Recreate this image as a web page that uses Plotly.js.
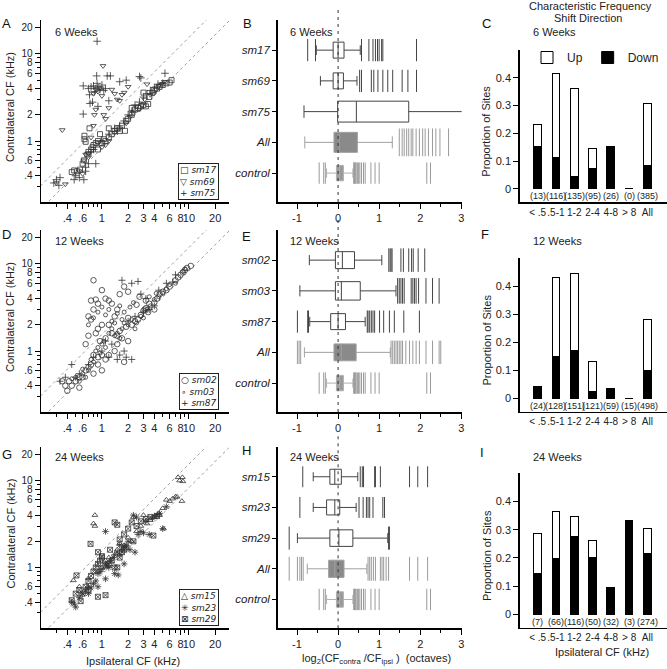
<!DOCTYPE html>
<html><head><meta charset="utf-8">
<script src="https://cdn.plot.ly/plotly-3.0.1.min.js"></script>
<style>html,body{margin:0;padding:0;background:#fff}#chart{width:667px;height:669px}</style>
</head><body><div id="chart"></div>
<script>
// ================= DATA =================
// Scatter panels: [ipsilateral CF, contralateral CF] in kHz
const A_sm17 = [[0.45,0.44],[0.48,0.46],[0.52,0.45],[0.56,0.47],[0.6,0.55],[0.62,0.6],[0.63,1.05],[0.63,1.15],[0.65,0.98],[0.68,0.7],[0.7,0.75],[0.72,1.4],[0.75,0.8],[0.78,0.85],[0.8,0.9],[0.85,0.95],[0.9,1.0],[0.95,1.2],[1.0,0.95],[1.05,1.05],[1.1,1.0],[1.2,1.1],[1.3,1.2],[1.4,1.3],[1.5,1.4],[1.6,1.3],[1.7,1.5],[1.84,1.31],[1.9,1.7],[2.0,1.8],[2.2,2.0],[2.4,2.3],[2.6,2.4],[2.8,2.5],[3.0,2.6],[3.2,2.5],[3.4,2.66],[3.5,3.2],[3.8,3.6],[4.0,3.9],[4.3,4.0],[4.6,4.2],[5.0,4.4],[5.5,4.6],[6.3,5.0],[6.0,4.7],[2.2,2.4],[1.2,1.4],[0.9,0.8],[3.0,3.6]];
const A_sm69 = [[0.35,1.34],[0.3,0.33],[0.38,0.32],[0.55,0.45],[0.6,0.42],[0.62,0.6],[0.65,0.7],[0.7,0.65],[0.75,1.1],[0.8,1.5],[0.82,2.0],[0.85,2.3],[0.8,3.5],[0.9,3.7],[0.95,4.1],[1.0,3.3],[1.05,2.0],[1.1,1.8],[1.0,0.85],[1.1,0.9],[1.2,1.0],[1.3,3.9],[1.4,3.5],[1.5,3.0],[1.6,2.9],[1.7,3.4],[1.8,3.6],[2.0,4.2],[1.4,1.25],[1.6,1.4],[1.9,1.6],[2.1,1.9],[2.3,2.1],[2.5,2.5],[2.7,2.3],[2.9,2.6],[3.1,3.0],[3.3,4.5],[3.6,3.4],[3.9,3.5],[4.2,3.9],[4.5,4.3],[4.8,4.5],[5.2,4.8],[0.9,0.95],[0.7,0.72],[1.2,2.4],[1.03,7.3]];
const A_sm75 = [[0.28,0.33],[0.3,0.36],[0.32,0.31],[0.33,0.38],[0.48,0.36],[0.5,0.4],[0.55,0.38],[0.62,0.36],[0.65,0.5],[0.7,0.55],[0.61,4.3],[0.7,4.0],[0.75,4.2],[0.8,4.3],[0.85,4.0],[0.88,4.6],[0.9,4.1],[0.95,3.9],[1.0,4.4],[1.05,3.8],[1.1,4.0],[1.15,5.6],[0.82,3.7],[0.72,3.4],[0.73,2.7],[0.78,2.8],[0.61,2.04],[0.9,2.5],[1.2,2.9],[1.25,5.6],[1.6,4.8],[1.9,5.0],[2.7,5.5],[2.8,5.3],[0.88,14],[0.87,5.6],[1.4,1.4],[1.5,1.3],[1.6,1.5],[1.8,1.7],[2.0,2.0],[2.2,2.2],[2.4,2.6],[2.7,2.8],[3.0,3.2],[3.3,3.5],[3.6,3.8],[4.0,4.1],[4.4,4.5],[5.0,4.6],[5.3,6.0],[0.85,0.55],[0.65,0.45],[0.75,0.75],[0.8,0.8],[1.0,1.0],[1.2,1.2]];

const D_sm02 = [[0.8,6.5],[1.0,5.0],[1.1,4.0],[0.75,3.8],[0.85,3.9],[0.9,3.5],[0.7,2.5],[0.75,2.3],[0.8,3.0],[1.2,3.8],[1.3,3.5],[1.5,3.0],[1.6,4.5],[1.8,5.5],[2.0,4.8],[1.4,2.5],[1.2,2.0],[1.0,2.0],[0.9,1.8],[0.85,1.6],[0.65,1.2],[0.7,1.5],[0.95,1.3],[1.1,1.4],[1.3,1.6],[1.5,1.5],[1.6,1.7],[1.7,1.4],[1.5,1.2],[1.4,1.0],[1.2,0.9],[1.0,0.9],[0.9,0.85],[0.8,0.9],[0.75,0.7],[0.7,0.65],[0.65,0.6],[0.6,0.5],[0.55,0.5],[0.5,0.45],[0.45,0.4],[0.42,0.45],[0.38,0.4],[0.35,0.45],[0.4,0.35],[0.55,0.38],[0.8,0.55],[1.0,0.6],[0.9,0.7],[1.1,0.8],[1.8,0.75],[2.0,1.3],[2.2,2.0],[2.4,2.2],[2.6,2.3],[2.8,2.6],[3.0,2.9],[3.2,3.1],[3.5,3.5],[3.2,3.8],[4.0,3.6],[4.3,4.0],[4.6,4.5],[5.0,4.8],[5.5,5.0],[6.0,5.5],[7.0,6.5],[7.5,7.0],[8.0,7.5],[8.5,8.0],[9.0,8.5],[9.5,9.0],[10.5,9.5],[3.1,3.0],[2.0,2.4],[1.9,1.9],[2.5,3.4],[2.7,4.2],[3.4,2.8],[4.0,3.0]];
const D_sm03 = [[0.6,0.55],[0.65,0.5],[0.7,0.6],[0.75,0.8],[0.8,0.75],[0.85,1.0],[0.9,1.1],[0.95,0.95],[1.0,1.2],[1.05,1.3],[1.1,1.1],[1.2,1.6],[1.3,1.8],[1.4,1.5],[1.5,1.6],[1.6,1.4],[1.7,1.8],[1.8,2.1],[2.0,2.0],[2.2,2.3],[2.5,2.1],[2.8,2.5],[3.0,2.4],[3.3,3.0],[3.6,3.3],[4.0,3.9],[4.5,4.2],[5.0,4.6],[6.0,5.8],[7.0,6.0],[8.5,8.2],[9.0,8.8],[0.7,2.0],[0.8,2.4],[0.9,2.8],[1.0,3.2],[1.1,2.6],[1.2,3.0],[1.3,2.2],[1.5,2.7],[1.6,3.3],[1.8,2.8],[2.1,3.2],[2.3,3.6],[0.5,0.5],[0.45,0.48],[0.55,0.45],[0.6,0.62],[1.4,2.1],[1.7,2.3],[2.4,1.8],[3.5,4.2],[4.2,4.6],[5.5,5.2]];
const D_sm87 = [[0.33,0.45],[0.38,0.5],[0.45,0.7],[0.5,0.5],[0.55,0.55],[0.7,0.7],[0.8,0.85],[1.0,1.0],[1.2,0.85],[1.5,0.8],[1.6,0.9],[1.8,1.0],[1.9,0.85],[2.2,0.8],[1.7,6.5],[2.2,6.0],[2.6,6.3],[2.8,4.5],[3.0,2.8],[3.5,3.0],[4.0,3.3],[4.5,5.0],[5.5,6.0],[3.2,4.0],[2.4,2.5],[2.0,2.2],[1.3,1.2],[1.1,1.3],[6.5,6.2],[7.0,7.5]];

const G_sm15 = [[0.47,0.71],[0.55,0.6],[0.7,0.75],[0.83,4.0],[0.8,3.2],[0.83,3.0],[1.0,1.0],[1.2,1.3],[1.5,1.6],[1.8,1.8],[2.0,2.2],[2.3,3.8],[2.5,2.6],[2.8,3.0],[3.0,4.0],[3.3,3.2],[3.6,3.5],[4.0,3.8],[4.5,4.2],[5.0,4.8],[5.1,2.8],[5.5,6.0],[6.0,5.8],[6.5,6.2],[7.0,6.5],[7.3,6.5],[7.5,10.9],[7.8,10.0],[8.4,10.9],[8.5,9.8],[8.3,5.8],[1.6,1.9],[2.2,2.0],[1.1,1.2],[0.9,0.9],[4.6,4.0]];
const G_sm23 = [[0.45,0.4],[0.48,0.38],[0.5,0.35],[0.55,0.45],[0.6,0.5],[0.65,0.55],[0.7,0.6],[0.75,0.58],[0.8,0.65],[0.85,0.7],[0.9,0.85],[0.95,0.9],[1.0,0.95],[1.1,0.74],[1.1,1.1],[1.15,1.05],[1.2,1.0],[1.25,1.2],[1.1,2.6],[1.35,1.3],[1.4,1.4],[1.5,1.5],[1.6,1.4],[1.7,1.6],[1.8,1.7],[1.9,1.8],[2.0,2.0],[2.1,1.6],[2.3,4.0],[2.5,3.8],[2.6,2.4],[2.8,2.6],[3.0,2.5],[3.2,3.4],[3.5,2.4],[3.8,3.7],[4.0,3.9],[4.3,4.0],[4.6,4.2],[5.0,2.8],[5.5,5.0],[1.4,0.85],[1.54,0.82],[2.4,1.5],[1.8,1.1],[0.9,0.6],[0.7,0.5],[1.6,1.8]];
const G_sm29 = [[0.45,0.42],[0.5,0.5],[0.55,0.55],[0.6,0.5],[0.57,0.41],[0.65,0.6],[0.7,0.7],[0.75,0.8],[0.8,0.9],[0.85,1.0],[0.9,1.1],[0.95,1.2],[0.9,0.46],[1.1,0.48],[1.0,1.3],[1.1,1.05],[1.2,1.1],[1.3,1.2],[1.4,1.0],[1.5,1.0],[1.6,1.3],[1.7,1.5],[1.8,1.6],[0.74,1.87],[0.9,1.5],[1.0,1.35],[1.24,1.6],[1.4,3.3],[1.5,3.1],[1.6,2.1],[1.8,2.4],[2.0,2.8],[2.2,3.3],[2.5,3.0],[2.8,3.4],[3.2,3.6],[3.6,3.8],[3.9,2.33],[4.3,3.9],[0.51,0.81],[0.7,0.55],[1.9,1.7],[2.3,2.0]];

// Box panels: log2(CFcontra/CFipsi), categories top to bottom
const B_cats = ['sm17','sm69','sm75','All','control'];
const B_lo  = [-0.53,-0.43,-0.83,-0.81,-0.28];
const B_q1  = [-0.12,-0.12,-0.01,-0.10,-0.04];
const B_med = [0.00,0.00,0.445,0.03,0.03];
const B_q3  = [0.145,0.13,1.72,0.47,0.13];
const B_hi  = [0.54,0.46,3.2,1.32,0.36];
const B_out_sm17 = [-0.74,-0.55,0.57,0.75,0.85,0.91,0.96,1.0,1.06,1.09,1.91];
const B_out_sm69 = [0.525,0.57,0.81,0.87,0.97,1.09,1.21,1.33,1.56,1.70,1.91];
const B_out_sm75 = [];
const B_out_All  = [1.49,1.56,1.61,1.67,1.72,1.78,1.82,1.90,1.98,2.06,2.12,2.20,2.30,2.38,2.48,2.69];
const control_out = [-0.46,-0.35,-0.31,0.38,0.40,0.42,0.44,0.47,0.50,0.53,0.57,0.62,0.66,0.80,0.90,1.0,2.16,2.25];

const E_cats = ['sm02','sm03','sm87','All','control'];
const E_lo  = [-0.70,-0.93,-0.69,-0.82,-0.28];
const E_q1  = [-0.065,-0.065,-0.18,-0.10,-0.04];
const E_med = [0.105,0.08,0.0,0.08,0.03];
const E_q3  = [0.40,0.54,0.18,0.44,0.13];
const E_hi  = [1.065,1.41,0.66,1.27,0.36];
const E_out_sm02 = [1.235,1.267,1.29,1.315,1.53,1.59,1.72,1.79,1.83,1.95,2.11];
const E_out_sm03 = [1.45,1.49,1.53,1.57,1.61,1.78,1.82,1.86,1.90,1.96,2.14,2.30,2.46];
const E_out_sm87 = [-0.99,-0.74,-0.72,0.71,0.73,0.77,0.81,0.85,0.89,1.01,1.11,1.25,1.37,1.60,1.98];
const E_out_All  = [-0.99,-0.95,-0.91,1.29,1.33,1.37,1.41,1.45,1.49,1.53,1.57,1.65,1.74,1.82,1.90,1.98,2.14,2.30,2.46,2.50];

const H_cats = ['sm15','sm23','sm29','All','control'];
const H_lo  = [-0.605,-0.605,-0.99,-0.75,-0.28];
const H_q1  = [-0.20,-0.28,-0.20,-0.23,-0.04];
const H_med = [-0.08,-0.08,0.02,-0.08,0.03];
const H_q3  = [0.08,0.04,0.36,0.145,0.13];
const H_hi  = [0.48,0.44,1.21,0.70,0.36];
const H_out_sm15 = [-0.86,0.54,0.59,0.62,0.89,0.91,1.03,1.74,1.94,2.18];
const H_out_sm23 = [-0.93,0.51,0.61,0.69,0.73,0.77,0.85,1.09,1.13];
const H_out_sm29 = [-1.19,1.23,1.25];
const H_out_All  = [-1.19,-0.99,-0.93,-0.89,-0.85,0.73,0.77,0.81,0.86,0.91,1.03,1.07,1.11,1.17,1.23,1.74,1.94,2.18];

// Bar panels: proportion of sites shifted
const bins = ['< .5','.5-1','1-2','2-4','4-8','> 8','All'];
const C_down  = [0.154,0.112,0.044,0.074,0.154,0,0.083];
const C_total = [0.231,0.414,0.363,0.147,0.154,0,0.306];
const C_n     = [13,116,135,95,26,0,385];
const F_down  = [0.042,0.148,0.172,0.025,0.034,0,0.100];
const F_total = [0.042,0.430,0.444,0.132,0.034,0,0.283];
const F_n     = [24,128,151,121,59,15,498];
const I_down  = [0.143,0.197,0.276,0.200,0.094,0.333,0.215];
const I_total = [0.286,0.364,0.345,0.260,0.094,0.333,0.303];
const I_n     = [7,66,116,50,32,3,274];

const weeks = ['6 Weeks','12 Weeks','24 Weeks'];
const refRatios = [1.55, 0.83];
const sc_xticks = [0.4,0.6,1,2,3,4,6,8,10,20];
const sc_xtext  = ['.4','.6','1','2','3','4','6','8','10','20'];
const sc_yticks = [0.4,0.6,1,2,4,6,8,10,20];
const sc_ytext  = ['.4','.6','1','2','4','6','8','10','20'];
const sc_minor  = [0.3,0.5,0.7,0.8,0.9,3,5,7,9];

// ================= STYLE / LAYOUT =================
const W = 667, H = 669;
const fx = p => p / W, fy = p => 1 - p / H;
const id = n => n === 1 ? '' : String(n);
const FONT = 'Liberation Sans, Arial, sans-serif';
const rows = [{top:20,bot:202},{top:230,bot:412},{top:446.7,bot:628.3}];
const barRows = [{top:50,bot:202.3},{top:258.3,bot:411.7},{top:473.3,bot:627.7}];
const common = {showline:true, linecolor:'#000', linewidth:1.5, ticks:'outside', ticklen:5, tickwidth:1,
  tickcolor:'#000', showgrid:false, zeroline:false, tickangle:0, tickfont:{size:11, color:'#222'}, fixedrange:true};

const traces = [];
const layout = {width:W, height:H, margin:{l:0,r:0,t:0,b:0}, paper_bgcolor:'#fff', plot_bgcolor:'rgba(0,0,0,0)',
  font:{family:FONT, size:11, color:'#222'}, showlegend:true, annotations:[], shapes:[],
  legend:{orientation:'h', x:fx(527), y:fy(43), xanchor:'left', yanchor:'top', font:{size:12, color:'#222'},
    bgcolor:'rgba(0,0,0,0)', itemwidth:30, traceorder:'normal'},
  boxmode:'overlay', barmode:'stack'};

function ann(text, x, y, opts) {
  layout.annotations.push(Object.assign({text, x:fx(x), y:fy(y), xref:'paper', yref:'paper', showarrow:false,
    xanchor:'left', yanchor:'middle', font:{size:11, color:'#222'}}, opts || {}));
}

// ---- Scatter panels ----
const scatterPanels = [
  {series:[['sm17',A_sm17,'square-open',5],['sm69',A_sm69,'triangle-down-open',5],['sm75',A_sm75,'cross-thin-open',5.5]],
   legend:'□ <i>sm17</i><br>▽ <i>sm69</i><br>+ <i>sm75</i>'},
  {series:[['sm02',D_sm02,'circle-open',5.5],['sm03',D_sm03,'circle-open',4],['sm87',D_sm87,'cross-thin-open',5]],
   legend:'○ <i>sm02</i><br>∘ <i>sm03</i><br>+ <i>sm87</i>'},
  {series:[['sm15',G_sm15,'triangle-up-open',5],['sm23',G_sm23,'asterisk-open',5.5],['sm29',G_sm29,'square-x-open',5]],
   legend:'△ <i>sm15</i><br>✳ <i>sm23</i><br>⊠ <i>sm29</i>'}
];
const refX = [0.1, 50];
scatterPanels.forEach((p, r) => {
  const n = r * 3 + 1, row = rows[r];
  refRatios.forEach(k => traces.push({type:'scatter', mode:'lines', x:refX, y:refX.map(v => v * k),
    xaxis:'x'+id(n), yaxis:'y'+id(n), line:{color:'#888', width:0.8, dash:'dot'}, showlegend:false, hoverinfo:'skip'}));
  p.series.forEach(([name, pts, sym, sz]) => traces.push({type:'scatter', mode:'markers', name,
    x:pts.map(q => q[0]), y:pts.map(q => q[1]), xaxis:'x'+id(n), yaxis:'y'+id(n), showlegend:false,
    marker:{symbol:sym, size:sz, color:'#333', line:{color:'#333', width:0.8}}}));
  layout['xaxis'+id(n)] = Object.assign({}, common, {domain:[fx(41), fx(229)], anchor:'y'+id(n), type:'log',
    range:[-0.70, 1.46], tickmode:'array', tickvals:sc_xticks, ticktext:sc_xtext,
    minor:{tickmode:'array', tickvals:sc_minor, ticks:'outside', ticklen:3, tickcolor:'#000'}});
  layout['yaxis'+id(n)] = Object.assign({}, common, {domain:[fy(row.bot), fy(row.top)], anchor:'x'+id(n), type:'log',
    range:[-0.70, 1.39], tickmode:'array', tickvals:sc_yticks, ticktext:sc_ytext, tickfont:{size:10, color:'#222'},
    minor:{tickmode:'array', tickvals:sc_minor, ticks:'outside', ticklen:3, tickcolor:'#000'}});
  ann(weeks[r], 53, [32, 240.7, 457][r]);
  ann('Contralateral CF (kHz)', 10, (row.top + row.bot) / 2 - 4, {textangle:-90, xanchor:'center', yanchor:'middle'});
  layout.annotations.push({text:p.legend, xref:'paper', yref:'paper', x:fx(218.5), y:fy(row.bot - 2),
    xanchor:'right', yanchor:'bottom', showarrow:false, align:'left', bordercolor:'#222', borderwidth:1,
    borderpad:1, bgcolor:'#fff', font:{size:9, color:'#222', family:'DejaVu Sans, ' + FONT}});
});

// ---- Box panels ----
const boxPanels = [
  {cats:B_cats, lo:B_lo, q1:B_q1, med:B_med, q3:B_q3, hi:B_hi, outs:[B_out_sm17,B_out_sm69,B_out_sm75,B_out_All,control_out],
   w:[0.52,0.52,0.68,0.65,0.5]},
  {cats:E_cats, lo:E_lo, q1:E_q1, med:E_med, q3:E_q3, hi:E_hi, outs:[E_out_sm02,E_out_sm03,E_out_sm87,E_out_All,control_out],
   w:[0.55,0.6,0.52,0.55,0.5]},
  {cats:H_cats, lo:H_lo, q1:H_q1, med:H_med, q3:H_q3, hi:H_hi, outs:[H_out_sm15,H_out_sm23,H_out_sm29,H_out_All,control_out],
   w:[0.49,0.49,0.54,0.56,0.5]}
];
boxPanels.forEach((p, r) => {
  const n = r * 3 + 2, row = rows[r];
  const xa = 'x'+id(n), ya = 'y'+id(n);
  p.cats.forEach((c, i) => {
    const grp = i >= 3;
    const fill = c === 'All' ? '#8a8a8a' : (c === 'control' ? '#9a9a9a' : '#fff');
    const lc = c === 'All' ? '#a0a0a0' : (c === 'control' ? '#b0b0b0' : '#444');
    traces.push({type:'box', orientation:'h', y:[c], q1:[p.q1[i]], median:[p.med[i]], q3:[p.q3[i]],
      lowerfence:[p.lo[i]], upperfence:[p.hi[i]], xaxis:xa, yaxis:ya, width:p.w[i], whiskerwidth:0.6,
      fillcolor:fill, line:{color:lc, width:1}, boxpoints:false, showlegend:false, hoverinfo:'skip'});
    if (p.outs[i].length) traces.push({type:'scatter', mode:'markers', x:p.outs[i], y:p.outs[i].map(() => c),
      xaxis:xa, yaxis:ya, showlegend:false, hoverinfo:'skip',
      marker:{symbol:'line-ns-open', size:p.w[i] * 30.5, color:grp ? '#9a9a9a' : '#444',
        line:{width:1, color:grp ? (c === 'control' ? '#aaa' : '#999') : '#444'}}});
  });
  layout['xaxis'+id(n)] = Object.assign({}, common, {domain:[fx(277.7), fx(461.7)], anchor:ya, range:[-1.47, 3.01],
    tickmode:'array', tickvals:[-1,0,1,2,3], ticktext:['-1','0','1','2','3'],
    minor:{tickmode:'array', tickvals:[-0.5,0.5,1.5,2.5], ticks:'outside', ticklen:3, tickcolor:'#000'}});
  layout['yaxis'+id(n)] = Object.assign({}, common, {domain:[fy(row.bot), fy(row.top)], anchor:xa, type:'category',
    categoryorder:'array', categoryarray:p.cats.slice().reverse(), range:[-0.94, 4.98], ticklen:4,
    tickmode:'array', tickvals:p.cats, ticktext:p.cats.map(c => '<i>' + c + '</i>'), tickfont:{size:11.5, color:'#222'}});
  layout.shapes.push({type:'line', xref:xa, yref:ya + ' domain', x0:0, x1:0, y0:0, y1:1.07,
    line:{color:'#333', width:1, dash:'3px,4px'}});
  ann(weeks[r], 287.5, [32, 240.7, 456.7][r]);
});

// ---- Bar panels ----
const barPanels = [[C_down, C_total, C_n], [F_down, F_total, F_n], [I_down, I_total, I_n]];
barPanels.forEach(([down, total, cnt], r) => {
  const n = r * 3 + 3, row = barRows[r];
  const xa = 'x'+id(n), ya = 'y'+id(n);
  traces.push({type:'bar', name:'Down', x:bins, y:down, xaxis:xa, yaxis:ya, width:0.42, legendrank:2,
    marker:{color:'#000', line:{color:'#000', width:1}}, showlegend:r === 0, hoverinfo:'skip'});
  traces.push({type:'bar', name:'Up', x:bins, y:total.map((t, i) => +(t - down[i]).toFixed(3)), xaxis:xa, yaxis:ya,
    width:0.42, legendrank:1, marker:{color:'#fff', line:{color:'#000', width:1}}, showlegend:r === 0, hoverinfo:'skip'});
  layout['xaxis'+id(n)] = Object.assign({}, common, {domain:[fx(519.7), 1], anchor:ya, type:'category',
    categoryorder:'array', categoryarray:bins, range:[-0.98, 7.07], ticks:'', tickfont:{size:10, color:'#222'}});
  layout['yaxis'+id(n)] = Object.assign({}, common, {domain:[fy(row.bot), fy(row.top)], anchor:xa,
    range:[-0.048, 0.5], tickmode:'array', tickvals:[0,0.1,0.2,0.3,0.4], ticktext:['0','0.1','0.2','0.3','0.4']});
  cnt.forEach((c, i) => layout.annotations.push({text:'(' + c + ')', xref:xa, yref:ya, x:bins[i], y:-0.026,
    showarrow:false, xanchor:'center', yanchor:'middle', font:{size:9, color:'#222'}}));
  ann(weeks[r], 530.7, [32, 240.7, 457][r]);
  ann('Proportion of Sites', 486.5, (row.top + row.bot) / 2 + 5, {textangle:-90, xanchor:'center'});
});

// ---- Texts ----
ann('Characteristic Frequency', 590, 6, {xanchor:'center'});
ann('Shift Direction', 588, 17.5, {xanchor:'center'});
ann('Ipsilateral CF (kHz)', 133, 661, {xanchor:'center'});
ann('Ipsilateral CF (kHz)', 601.5, 652, {xanchor:'center'});
ann('log<sub>2</sub>(CF<sub>contra</sub> /CF<sub>ipsi</sub> )  (octaves)', 377, 659, {xanchor:'center'});
const letters = [['A',0,24],['B',241,24],['C',480,24],['D',0,234],['E',240,236],['F',479,234],['G',0,454],['H',240,450],['I',478,452]];
letters.forEach(([t, x, y]) => ann(t, x, y, {font:{size:13, color:'#111'}}));

Plotly.newPlot('chart', traces, layout, {staticPlot:true, displayModeBar:false});
</script></body></html>
